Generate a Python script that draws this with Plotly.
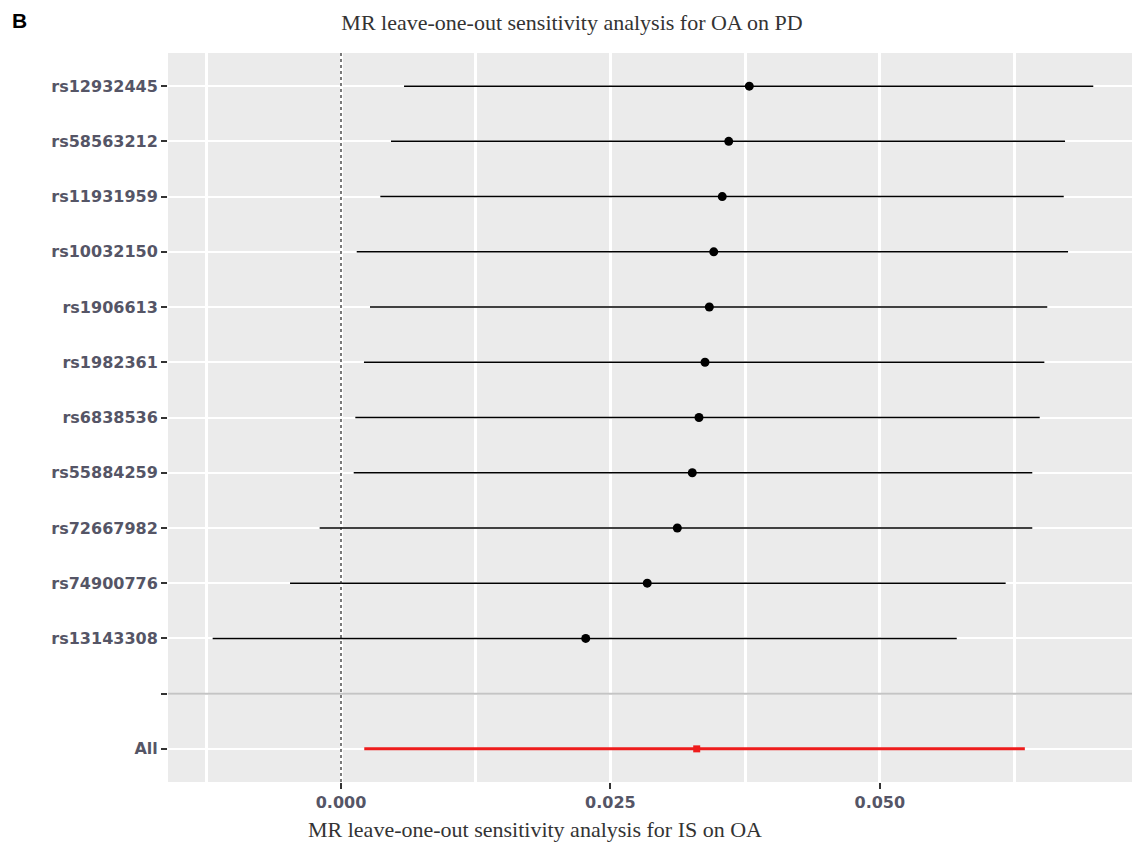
import plotly.graph_objects as go

snps = ["rs12932445", "rs58563212", "rs11931959", "rs10032150", "rs1906613",
        "rs1982361", "rs6838536", "rs55884259", "rs72667982", "rs74900776",
        "rs13143308"]
beta = [0.03789, 0.03598, 0.03538, 0.03459, 0.03418, 0.03378, 0.03322,
        0.03260, 0.03121, 0.02842, 0.02271]
lower = [0.00585, 0.00464, 0.00365, 0.00146, 0.00269, 0.00213, 0.00133,
         0.00118, -0.00198, -0.00473, -0.01191]
upper = [0.06981, 0.06719, 0.06707, 0.06747, 0.06554, 0.06527, 0.06484,
         0.06415, 0.06415, 0.06168, 0.05714]

all_label = ["All"]
all_beta = [0.03301]
all_lower = [0.00216]
all_upper = [0.06346]

categories = snps + [" "] + all_label
x_ticks = [0.0, 0.025, 0.05]
x_ticktext = ["0.000", "0.025", "0.050"]

fig = go.Figure()

fig.add_trace(go.Scatter(
    x=beta, y=snps, mode="markers",
    marker=dict(color="black", size=9, symbol="circle"),
    error_x=dict(type="data", symmetric=False,
                 array=[u - b for u, b in zip(upper, beta)],
                 arrayminus=[b - l for b, l in zip(beta, lower)],
                 color="black", thickness=1.5, width=0),
    showlegend=False, hoverinfo="skip"))

fig.add_trace(go.Scatter(
    x=all_beta, y=all_label, mode="markers",
    marker=dict(color="#ee1c1c", size=7, symbol="square"),
    error_x=dict(type="data", symmetric=False,
                 array=[u - b for u, b in zip(all_upper, all_beta)],
                 arrayminus=[b - l for b, l in zip(all_beta, all_lower)],
                 color="#ee1c1c", thickness=3, width=0),
    showlegend=False, hoverinfo="skip"))

sep_index = categories.index(" ")

# dotted reference line at zero
fig.add_shape(type="line", xref="x", yref="paper", x0=0, x1=0, y0=0, y1=1,
              line=dict(color="#222222", width=1.2, dash="dot"), layer="above")
# grey separator at the empty category
fig.add_shape(type="line", xref="paper", yref="y", x0=0, x1=1,
              y0=sep_index, y1=sep_index,
              line=dict(color="#c4c4c4", width=2), layer="above")

serif = "Liberation Serif, Times New Roman, serif"
tickfont = dict(family="DejaVu Sans", size=16, color="#555566", weight="bold")

fig.update_layout(
    width=1132, height=843,
    margin=dict(l=168, r=0, t=53, b=61),
    paper_bgcolor="white", plot_bgcolor="#EBEBEB",
    title=dict(text="MR leave-one-out sensitivity analysis for OA on PD",
               x=572 / 1132, xref="container", xanchor="center",
               y=1 - 22 / 843, yref="container", yanchor="middle",
               font=dict(family=serif, size=22, color="#333333")),
    xaxis=dict(range=[-0.016054, 0.073404], tickvals=x_ticks, ticktext=x_ticktext,
               showgrid=True, gridcolor="white", gridwidth=2.5, zeroline=False,
               ticks="outside", ticklen=6, tickwidth=1.5, tickcolor="#333333",
               tickfont=tickfont,
               minor=dict(dtick=0.0125, tick0=0, showgrid=True, gridcolor="white",
                          gridwidth=2.5, ticks="")),
    yaxis=dict(type="category", categoryorder="array", categoryarray=categories,
               range=[12.6, -0.6], showgrid=True, gridcolor="white", gridwidth=1.5,
               ticks="outside", ticklen=6, tickwidth=1.5, tickcolor="#333333",
               tickfont=tickfont, zeroline=False),
    annotations=[
        dict(text="MR leave-one-out sensitivity analysis for IS on OA",
             xref="paper", yref="paper", x=(535 - 168) / 964, y=(782 - 829) / 729,
             xanchor="center", yanchor="middle", showarrow=False,
             font=dict(family=serif, size=22, color="#333333")),
        dict(text="<b>B</b>", xref="paper", yref="paper", x=(10 - 168) / 964,
             y=(782 - 20) / 729, xanchor="left", yanchor="middle", showarrow=False,
             font=dict(family="Liberation Sans, Arial, sans-serif", size=21,
                       color="black")),
    ],
)

fig.write_html("out.html")
